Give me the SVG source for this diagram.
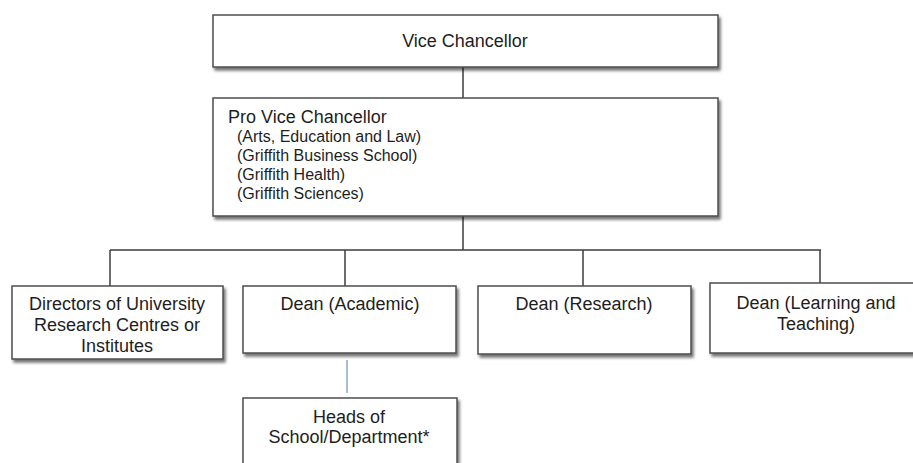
<svg xmlns="http://www.w3.org/2000/svg" width="913" height="463" viewBox="0 0 913 463">
<defs>
<filter id="sh" x="-5%" y="-10%" width="115%" height="140%">
<feGaussianBlur in="SourceAlpha" stdDeviation="1.6"/>
<feOffset dx="2" dy="3" result="b"/>
<feComponentTransfer><feFuncA type="linear" slope="0.55"/></feComponentTransfer>
<feMerge><feMergeNode/><feMergeNode in="SourceGraphic"/></feMerge>
</filter>
<style>
.box{fill:#fff;stroke:#4d4d4d;stroke-width:1.5;filter:url(#sh)}
.t{font-family:"Liberation Sans",Arial,sans-serif;font-size:18px;fill:#1e1e1e}
.c{text-anchor:middle}
.s{font-size:16px}
.ln{stroke:#3c3c3c;stroke-width:1.5;fill:none}
.bl{stroke:#8ea6bf;stroke-width:1.5;fill:none}
</style>
</defs>
<rect width="913" height="463" fill="#fff"/>
<g id="connectors">
<line class="ln" x1="463" y1="67" x2="463" y2="98"/>
<line class="ln" x1="463" y1="216" x2="463" y2="250"/>
<line class="ln" x1="110" y1="250" x2="821" y2="250"/>
<line class="ln" x1="110" y1="250" x2="110" y2="286"/>
<line class="ln" x1="345" y1="250" x2="345" y2="286"/>
<line class="ln" x1="583" y1="250" x2="583" y2="286"/>
<line class="ln" x1="820" y1="250" x2="820" y2="283"/>
<line class="bl" x1="347" y1="360" x2="347" y2="393"/>
</g>
<g id="vice-chancellor">
<rect class="box" x="213" y="15" width="505" height="52"/>
<text class="t c" x="465" y="47">Vice Chancellor</text>
</g>
<g id="pro-vice-chancellor">
<rect class="box" x="213" y="98" width="505" height="118"/>
<text class="t" x="228" y="123">Pro Vice Chancellor</text>
<text class="t s" x="237" y="141.5">(Arts, Education and Law)</text>
<text class="t s" x="237" y="160.5">(Griffith Business School)</text>
<text class="t s" x="237" y="179.5">(Griffith Health)</text>
<text class="t s" x="237" y="198.5">(Griffith Sciences)</text>
</g>
<g id="directors">
<rect class="box" x="12" y="286" width="211" height="73"/>
<text class="t c" x="117" y="310">Directors of University</text>
<text class="t c" x="117" y="331">Research Centres or</text>
<text class="t c" x="117" y="352">Institutes</text>
</g>
<g id="dean-academic">
<rect class="box" x="243" y="286" width="213" height="67"/>
<text class="t c" x="350" y="310">Dean (Academic)</text>
</g>
<g id="dean-research">
<rect class="box" x="478" y="286" width="213" height="68"/>
<text class="t c" x="584" y="310">Dean (Research)</text>
</g>
<g id="dean-learning-teaching">
<rect class="box" x="710" y="283" width="215" height="70"/>
<text class="t c" x="816" y="309">Dean (Learning and</text>
<text class="t c" x="816" y="330">Teaching)</text>
</g>
<g id="heads-of-school">
<rect class="box" x="243" y="398" width="214" height="80"/>
<text class="t c" x="349" y="423">Heads of</text>
<text class="t c" x="349" y="443">School/Department*</text>
</g>
</svg>
